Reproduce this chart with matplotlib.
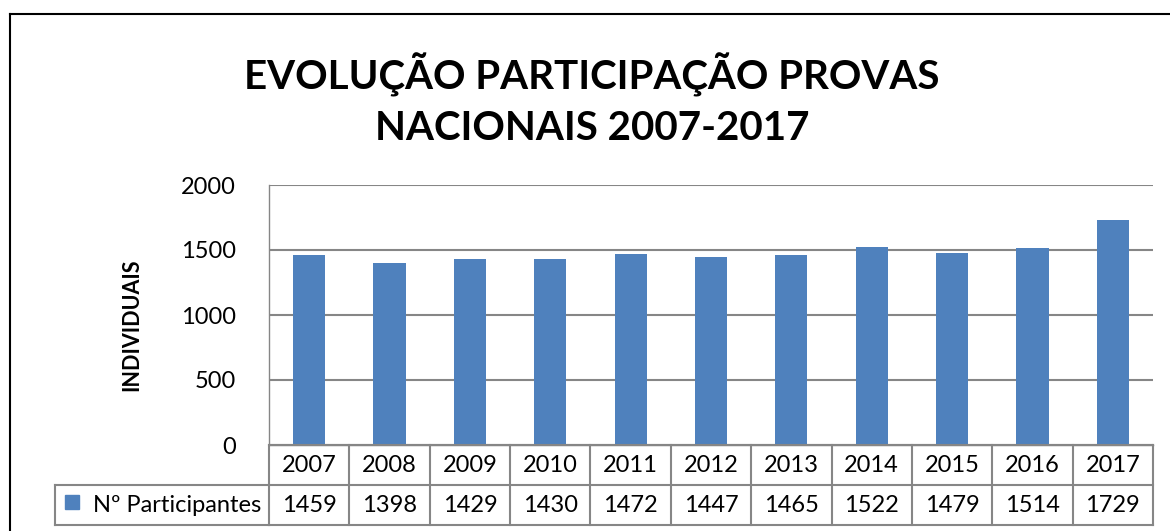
import matplotlib.pyplot as plt
from matplotlib.transforms import blended_transform_factory
from matplotlib.patches import Rectangle

# donnees du graphique
annees = ['2007', '2008', '2009', '2010', '2011', '2012', '2013', '2014', '2015', '2016', '2017']
participants = [1459, 1398, 1429, 1430, 1472, 1447, 1465, 1522, 1479, 1514, 1729]
serie = 'Nº Participantes'
titre = 'EVOLUÇÃO PARTICIPAÇÃO PROVAS\nNACIONAIS 2007-2017'

bleu = '#4F81BD'
gris = '#868686'
police = ['Lato', 'DejaVu Sans']

fig = plt.figure(figsize=(11.7, 5.31), dpi=100)
W, H = 1170, 531

# cadre exterieur du graphique
fig.add_artist(plt.Line2D([10 / W, 10 / W], [0, 1 - 14 / H], color='black', lw=1.5))
fig.add_artist(plt.Line2D([10 / W, 1], [1 - 14 / H, 1 - 14 / H], color='black', lw=1.5))

ax = fig.add_axes([269 / W, 1 - 445 / H, (1153 - 269) / W, (445 - 185) / H])
x = list(range(len(annees)))
ax.bar(x, participants, width=0.4, color=bleu, zorder=2)
ax.set_xlim(-0.5, len(annees) - 0.5)
ax.set_ylim(0, 2000)
ax.set_yticks([0, 500, 1000, 1500, 2000])
ax.set_yticklabels(['0', '500', '1000', '1500', '2000'], fontsize=17, family=police)
ax.tick_params(axis='y', length=0, pad=24)
ax.set_xticks([])
ax.grid(axis='y', color=gris, lw=1.5, zorder=1)
for s in ['top', 'right', 'bottom', 'left']:
    ax.spines[s].set_color(gris)
    ax.spines[s].set_linewidth(1)
ax.spines['top'].set_visible(False)
ax.spines['right'].set_visible(False)
ax.set_ylabel('INDIVIDUAIS', fontsize=15.5, fontweight='bold', family=police)
ax.yaxis.set_label_coords((142 - 269) / 884, (445 - 325) / 260)

# tableau de donnees sous le graphique
tr = blended_transform_factory(ax.transData, ax.transAxes)
rh = 40 / 260
kw = dict(color=gris, lw=1.5, clip_on=False)
ax.plot([-0.5, len(annees) - 0.5], [-rh, -rh], transform=tr, **kw)
ax.plot([-0.5, len(annees) - 0.5], [-2 * rh, -2 * rh], transform=tr, **kw)
ax.plot([-0.5, len(annees) - 0.5], [0, 0], transform=tr, **kw)
for i in range(len(annees) + 1):
    ax.plot([i - 0.5, i - 0.5], [0, -2 * rh], transform=tr, **kw)
# case de la legende
xl = (55 - 269) / (1153 - 269)
ax.plot([xl, 0], [-rh, -rh], transform=ax.transAxes, **kw)
ax.plot([xl, 0], [-2 * rh, -2 * rh], transform=ax.transAxes, **kw)
ax.plot([xl, xl], [-rh, -2 * rh], transform=ax.transAxes, **kw)
for i, a in enumerate(annees):
    ax.text(i, -rh / 2, a, transform=tr, ha='center', va='center', fontsize=17, family=police)
    ax.text(i, -1.5 * rh, str(participants[i]), transform=tr, ha='center', va='center',
            fontsize=17, family=police)
ax.text(-0.5 - 0.1, -1.5 * rh, serie, transform=tr, ha='right', va='center', fontsize=17,
        family=police)
ax.add_patch(Rectangle(((65 - 269) / 884, (445 - 509) / 260), 14 / 884, 14 / 260,
                       transform=ax.transAxes, color=bleu, clip_on=False))

fig.text(592 / W, 1 - 100 / H, titre, ha='center', va='center', fontsize=29,
         fontweight='bold', family=police, linespacing=1.45)

fig.savefig('out.png', dpi=100)
